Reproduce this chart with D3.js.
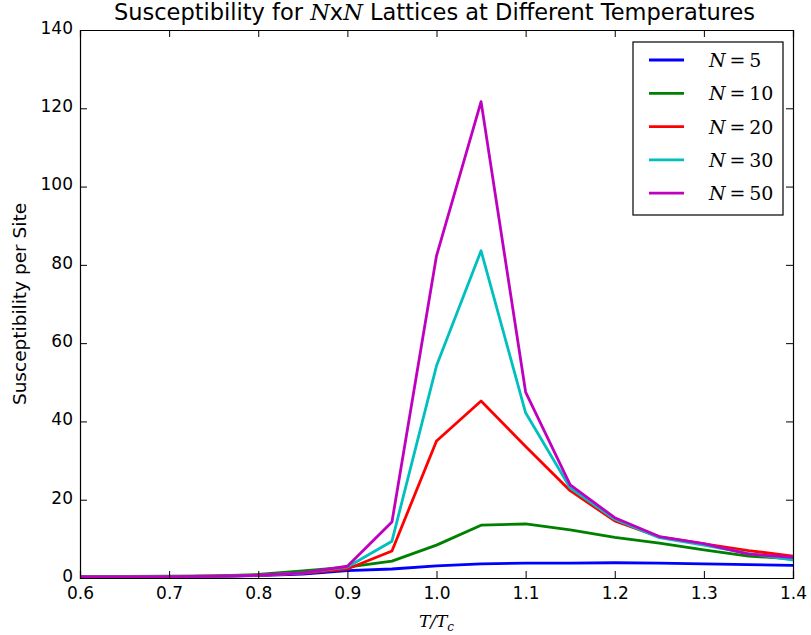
<!DOCTYPE html>
<html>
<head>
<meta charset="utf-8">
<script src="https://cdn.jsdelivr.net/npm/d3@7"></script>
<style>
  body { margin: 0; background: #fff; }
  text { font-family: "DejaVu Sans", sans-serif; fill: #000; }
  .math { font-family: "DejaVu Serif", "Liberation Serif", serif; }
</style>
</head>
<body>
<div class="chart"></div>
<script>
// temperatures (T/Tc)
const temps = [0.6, 0.65, 0.7, 0.75, 0.8, 0.85, 0.9, 0.95, 1.0, 1.05, 1.1, 1.15, 1.2, 1.25, 1.3, 1.35, 1.4];

const chiN5  = [0.3, 0.3, 0.35, 0.4, 0.6, 1.0, 1.9, 2.3, 3.1, 3.6, 3.8, 3.8, 3.9, 3.8, 3.6, 3.4, 3.2];
const chiN10 = [0.4, 0.4, 0.45, 0.55, 0.9, 1.8, 2.8, 4.3, 8.4, 13.5, 13.8, 12.3, 10.4, 8.9, 7.2, 5.6, 4.9];
const chiN20 = [0.3, 0.3, 0.35, 0.45, 0.7, 1.2, 2.3, 6.9, 35.0, 45.2, 33.6, 22.3, 14.6, 10.5, 8.7, 7.0, 5.6];
const chiN30 = [0.3, 0.3, 0.35, 0.45, 0.7, 1.3, 2.8, 9.4, 54.2, 83.6, 42.2, 23.0, 15.0, 10.3, 8.4, 6.3, 4.6];
const chiN50 = [0.3, 0.3, 0.35, 0.45, 0.7, 1.3, 3.0, 14.3, 82.3, 121.7, 47.5, 23.8, 15.4, 10.6, 8.8, 6.1, 5.3];

const seriesNames = ["5", "10", "20", "30", "50"];
const seriesColors = ["#0000ff", "#008000", "#ff0000", "#00bfbf", "#bf00bf"];
const seriesValues = [chiN5, chiN10, chiN20, chiN30, chiN50];

const xTicks = [0.6, 0.7, 0.8, 0.9, 1.0, 1.1, 1.2, 1.3, 1.4];
const yTicks = [0, 20, 40, 60, 80, 100, 120, 140];

const width = 811, height = 635;
const margin = {left: 80, right: 18, top: 30, bottom: 57};

const svg = d3.select('.chart').append('svg')
    .attr('width', width)
    .attr('height', height);

const x = d3.scaleLinear().domain([0.6, 1.4]).range([margin.left, width - margin.right]);
const y = d3.scaleLinear().domain([0, 140]).range([height - margin.bottom, margin.top]);

// clip for lines
svg.append('clipPath').attr('id', 'clip')
  .append('rect')
    .attr('x', margin.left).attr('y', margin.top)
    .attr('width', x(1.4) - x(0.6)).attr('height', y(0) - y(140));

const line = d3.line()
    .x((d, i) => x(temps[i]))
    .y(d => y(d));

svg.append('g').attr('clip-path', 'url(#clip)')
  .selectAll('path')
  .data(seriesValues)
  .enter()
  .append('path')
    .attr('fill', 'none')
    .attr('stroke', (d, i) => seriesColors[i])
    .attr('stroke-width', 2.8)
    .attr('stroke-linejoin', 'round')
    .attr('d', d => line(d));

// axes with inward ticks on all sides
const tickLen = 7;
const fmtX = d3.format('.1f');

svg.append('g')
    .attr('transform', `translate(0,${y(0)})`)
    .call(d3.axisBottom(x).tickValues(xTicks).tickSize(-tickLen).tickPadding(9).tickFormat(fmtX))
    .call(g => g.selectAll('text').attr('font-size', 17).attr('dy', '0.71em'));

svg.append('g')
    .attr('transform', `translate(0,${y(140)})`)
    .call(d3.axisTop(x).tickValues(xTicks).tickSize(-tickLen).tickFormat(''));

svg.append('g')
    .attr('transform', `translate(${x(0.6)},0)`)
    .call(d3.axisLeft(y).tickValues(yTicks).tickSize(-tickLen).tickPadding(7))
    .call(g => g.selectAll('text').attr('font-size', 17).attr('dy', '0.2em'));

svg.append('g')
    .attr('transform', `translate(${x(1.4)},0)`)
    .call(d3.axisRight(y).tickValues(yTicks).tickSize(-tickLen).tickFormat(''));

svg.selectAll('.domain').attr('stroke', '#000').attr('stroke-width', 1.2);
svg.selectAll('.tick line').attr('stroke', '#000');
svg.selectAll('.tick text').attr('fill', '#000').attr('font-family', '"DejaVu Sans", sans-serif');

// title
const title = svg.append('text')
    .attr('x', (x(0.6) + x(1.4)) / 2 - 2)
    .attr('y', 20)
    .attr('text-anchor', 'middle')
    .attr('font-size', 22.5);
title.append('tspan').text('Susceptibility for ');
title.append('tspan').attr('class', 'math').attr('font-style', 'italic').text('N');
title.append('tspan').text('x');
title.append('tspan').attr('class', 'math').attr('font-style', 'italic').text('N');
title.append('tspan').text(' Lattices at Different Temperatures');

// axis labels
const xl = svg.append('text')
    .attr('x', (x(0.6) + x(1.4)) / 2)
    .attr('y', 627)
    .attr('text-anchor', 'middle')
    .attr('class', 'math')
    .attr('font-size', 17)
    .attr('font-style', 'italic');
xl.append('tspan').text('T/T');
xl.append('tspan').attr('font-size', 12).attr('dy', 4).text('c');

svg.append('text')
    .attr('transform', `translate(26,${(y(0) + y(140)) / 2}) rotate(-90)`)
    .attr('text-anchor', 'middle')
    .attr('font-size', 18.5)
    .text('Susceptibility per Site');

// legend
const legend = svg.append('g').attr('transform', 'translate(633,42)');
legend.append('rect')
    .attr('width', 150).attr('height', 173)
    .attr('fill', '#fff').attr('stroke', '#000').attr('stroke-width', 1.2);

const rows = legend.selectAll('g.row')
  .data(seriesNames)
  .enter()
  .append('g')
    .attr('class', 'row')
    .attr('transform', (d, i) => `translate(0,${18 + i * 33.3})`);

rows.append('line')
    .attr('x1', 16).attr('x2', 51)
    .attr('stroke', (d, i) => seriesColors[i])
    .attr('stroke-width', 2.8);

const lt = rows.append('text')
    .attr('x', 76).attr('y', 7)
    .attr('class', 'math')
    .attr('font-size', 19);
lt.append('tspan').attr('font-style', 'italic').text('N');
lt.append('tspan').text('\u2009=\u2009');
lt.append('tspan').text(d => d);
</script>
</body>
</html>
